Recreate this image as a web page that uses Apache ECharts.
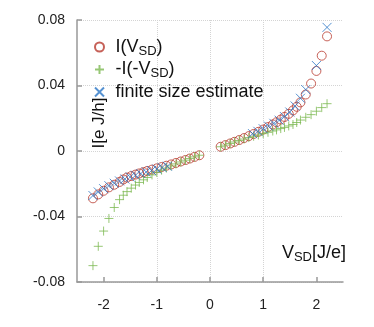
<!DOCTYPE html>
<html>
<head>
<meta charset="utf-8">
<script src="https://cdn.jsdelivr.net/npm/echarts@6/dist/echarts.min.js"></script>
<style>
html, body { margin: 0; padding: 0; background: #fff; }
#container { width: 374px; height: 327px; }
</style>
</head>
<body>
<div id="container"></div>
<script>
// bias points (V_SD), same magnitudes on both sides
var vPos = [0.20, 0.29, 0.38, 0.46, 0.55, 0.64, 0.73, 0.82, 0.91, 1.00, 1.09, 1.18,
            1.25, 1.33, 1.40, 1.48, 1.56, 1.63, 1.70, 1.80, 1.90, 2.00, 2.10, 2.20];
var vNeg = vPos.map(function (v) { return -v; });

// I(V_SD)
var iPos = [0.0026, 0.0036, 0.0046, 0.0056, 0.0067, 0.0079, 0.0091, 0.0104, 0.0117, 0.0131, 0.0146, 0.0162,
            0.0176, 0.0192, 0.0208, 0.0227, 0.0248, 0.0270, 0.0297, 0.0345, 0.0412, 0.0489, 0.0582, 0.0700];
var iNeg = [-0.0026, -0.0036, -0.0046, -0.0055, -0.0064, -0.0073, -0.0082, -0.0090, -0.0098, -0.0106, -0.0114, -0.0122,
            -0.0129, -0.0137, -0.0144, -0.0153, -0.0162, -0.0174, -0.0189, -0.0206, -0.0222, -0.0243, -0.0265, -0.0289];

// -I(-V_SD)
var gPos = [0.0026, 0.0036, 0.0046, 0.0055, 0.0064, 0.0073, 0.0082, 0.0090, 0.0098, 0.0106, 0.0114, 0.0122,
            0.0129, 0.0137, 0.0144, 0.0153, 0.0162, 0.0174, 0.0189, 0.0206, 0.0222, 0.0243, 0.0265, 0.0289];
var gNeg = [-0.0026, -0.0036, -0.0046, -0.0056, -0.0067, -0.0079, -0.0091, -0.0104, -0.0117, -0.0131, -0.0146, -0.0162,
            -0.0176, -0.0192, -0.0208, -0.0227, -0.0248, -0.0270, -0.0297, -0.0345, -0.0412, -0.0489, -0.0582, -0.0700];

// finite size estimate
var fvNeg = [-2.2, -2.1, -2.0, -1.9, -1.8, -1.7, -1.6, -1.5, -1.4, -1.3, -1.2, -1.1, -1.0, -0.9, -0.8];
var fNeg = [-0.0272, -0.0250, -0.0230, -0.0212, -0.0197, -0.0183, -0.0171, -0.0159, -0.0148, -0.0138, -0.0128, -0.0119, -0.0110, -0.0101, -0.0093];
var fvPos = [0.8, 0.9, 1.0, 1.1, 1.2, 1.3, 1.4, 1.5, 1.6, 1.7, 1.8, 2.0, 2.2];
var fPos = [0.0106, 0.0120, 0.0136, 0.0152, 0.0169, 0.0188, 0.0210, 0.0238, 0.0275, 0.0322, 0.0375, 0.0522, 0.0755];

var xTicks = [-2, -1, 0, 1, 2];

function pairs(xs, ys) {
    return xs.map(function (x, i) { return [x, ys[i]]; });
}

var dom = document.getElementById("container");
var myChart = echarts.init(dom);
var font = 'Liberation Sans';
option = null;

option = {
    animation: false,
    grid: { left: 77, right: 31, top: 20, bottom: 45 },
    legend: {
        orient: 'vertical',
        left: 89,
        top: 32,
        itemWidth: 22,
        itemHeight: 9,
        itemGap: 2,
        textStyle: {
            fontSize: 18, fontFamily: font, color: '#111', lineHeight: 20,
            rich: { sub: { fontSize: 13, fontFamily: font, color: '#111', padding: [8, 0, 0, 0] } }
        },
        formatter: function (name) { return name.replace('_SD', '{sub|SD}'); },
        data: ['I(V_SD)', '-I(-V_SD)', 'finite size estimate']
    },
    xAxis: {
        type: 'value',
        min: -2.5,
        max: 2.5,
        axisLine: { onZero: false, lineStyle: { color: '#999', width: 1.5 } },
        axisTick: { inside: true, length: 5, customValues: xTicks, lineStyle: { color: '#999', width: 1.5 } },
        axisLabel: { customValues: xTicks, margin: 16, fontSize: 14, fontFamily: font, color: '#222' },
        splitLine: { show: true, showMinLine: false, showMaxLine: false, lineStyle: { color: '#d4d4d4', type: 'dotted' } }
    },
    yAxis: {
        type: 'value',
        min: -0.08,
        max: 0.08,
        interval: 0.04,
        axisLine: { show: true, onZero: false, lineStyle: { color: '#999', width: 1.5 } },
        axisTick: { show: true, inside: true, length: 5, lineStyle: { color: '#999', width: 1.5 } },
        axisLabel: { margin: 12, fontSize: 14, fontFamily: font, color: '#222' },
        splitLine: { show: true, lineStyle: { color: '#d4d4d4', type: 'dotted' } }
    },
    graphic: [
        {
            type: 'text', x: 99, y: 123, rotation: Math.PI / 2,
            style: { text: 'I[e J/h]', fontSize: 17, fontFamily: font, fill: '#111', align: 'center', verticalAlign: 'middle' }
        },
        {
            type: 'text', x: 346, y: 253,
            style: {
                text: 'V{sub|SD}[J/e]', fontSize: 18, fontFamily: font, fill: '#111', align: 'right', verticalAlign: 'middle',
                rich: { sub: { fontSize: 13, fontFamily: font, fill: '#111', padding: [8, 0, 0, 0] } }
            }
        }
    ],
    series: [
        {
            name: 'I(V_SD)',
            type: 'scatter',
            symbol: 'circle',
            symbolSize: 9,
            itemStyle: { color: 'transparent', borderColor: '#b8392e', borderWidth: 1 },
            data: pairs(vNeg, iNeg).concat(pairs(vPos, iPos))
        },
        {
            name: '-I(-V_SD)',
            type: 'scatter',
            symbol: 'path://M0,5L10,5M5,0L5,10',
            symbolSize: 9,
            itemStyle: { color: '#7db953', borderColor: '#7db953', borderWidth: 1 },
            data: pairs(vNeg, gNeg).concat(pairs(vPos, gPos))
        },
        {
            name: 'finite size estimate',
            type: 'scatter',
            symbol: 'path://M0,0L10,10M10,0L0,10',
            symbolSize: 9,
            itemStyle: { color: '#2a76c6', borderColor: '#2a76c6', borderWidth: 1 },
            data: pairs(fvNeg, fNeg).concat(pairs(fvPos, fPos))
        }
    ]
};
if (option && typeof option === "object") {
    myChart.setOption(option, true);
}
</script>
</body>
</html>
